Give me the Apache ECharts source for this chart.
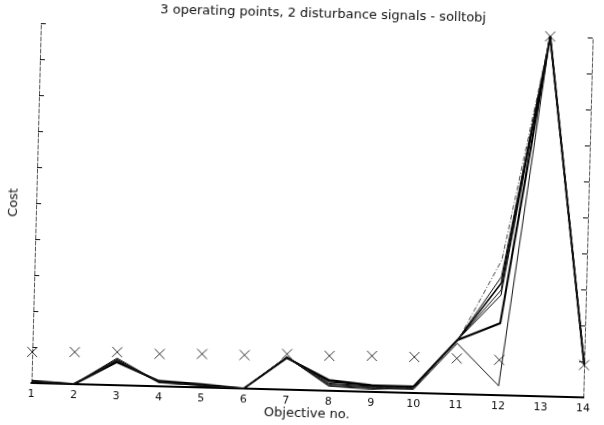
<!DOCTYPE html>
<html><head><meta charset="utf-8">
<script src="https://cdn.jsdelivr.net/npm/echarts@6/dist/echarts.min.js"></script>
<style>
html,body{margin:0;padding:0;background:#fff;width:604px;height:425px;overflow:hidden}
#c{width:604px;height:425px;background:#fff;transform:rotate(1.5deg);transform-origin:50% 50%}
</style></head><body><div id="c"></div>
<script>
// Objective numbers (x categories)
const objectives = [1,2,3,4,5,6,7,8,9,10,11,12,13,14];
// Goal values (x markers)
const goals = [0.86,0.89,0.92,0.90,0.93,0.93,0.99,0.97,1.00,1.00,0.99,0.98,10,0.90];
// Solution traces (cost per objective)
const solA = [0.06,0,0.64,0.15,0.09,0,0.88,0.30,0.19,0.18,1.50,2.00,10,0.92];
const solB = [0.05,0,0.75,0.12,0.06,0,0.92,0.21,0.14,0.15,1.50,2.78,10,0.92];
const solC = [0.05,0,0.70,0.10,0.05,0,0.90,0.13,0.07,0.13,1.50,2.92,10,0.94];
const solD = [0.04,0,0.66,0.13,0.07,0,0.89,0.26,0.17,0.17,1.50,3.11,10,0.94];
const solE = [0.04,0,0.68,0.12,0.06,0,0.90,0.18,0.12,0.14,1.50,3.29,10,0.92];
const solF = [0.05,0,0.70,0.12,0.06,0,0.90,0.20,0.12,0.14,1.46,3.76,10,0.92];
const solG = [0.05,0,0.72,0.11,0.05,0,0.90,0.15,0.10,0.10,1.41,0.26,10,0.92];

const pair = arr => objectives.map((o,i)=>[o,arr[i]]);
const font = 'DejaVu Sans, Verdana, sans-serif';

function lineSeries(arr, w, type, color){
  return {type:'line', data:pair(arr), symbol:'none', silent:true,
    lineStyle:{color:color, width:w, type:type}, z:3};
}

const chart = echarts.init(document.getElementById('c'), null, {renderer:'canvas'});
chart.setOption({
  animation:false,
  backgroundColor:'#fff',
  title:{text:'3 operating points, 2 disturbance signals - solltobj', left:313, top:2, textAlign:'center',
    textStyle:{fontFamily:font, fontSize:13, fontWeight:'normal', color:'#111'}},
  grid:{left:36, right:16, top:30, bottom:35, containLabel:false, outerBoundsMode:'none'},
  xAxis:[{type:'value', min:1, max:14, interval:1,
      axisLine:{lineStyle:{color:'#000', width:2}},
      axisTick:{show:false}, splitLine:{show:false},
      axisLabel:{color:'#111', fontFamily:font, fontSize:11, margin:6},
      name:'Objective no.', nameLocation:'middle', nameGap:17, nameMoveOverlap:false,
      nameTextStyle:{fontFamily:font, fontSize:13, color:'#111'}},
    {type:'value', position:'top', min:1, max:14, interval:1,
      axisLine:{show:true, lineStyle:{color:'#000', width:1.6}},
      axisTick:{show:false}, axisLabel:{show:false}, splitLine:{show:false}}],
  yAxis:[{type:'value', min:0, max:10, interval:1,
      axisLine:{show:true, lineStyle:{color:'#555', width:1, type:[4,2]}},
      axisTick:{show:true, inside:true, length:5, lineStyle:{color:'#111'}},
      axisLabel:{show:false}, splitLine:{show:false},
      name:'Cost', nameLocation:'middle', nameGap:16,
      nameTextStyle:{fontFamily:font, fontSize:13, color:'#111'}},
    {type:'value', position:'right', min:0, max:10, interval:1,
      axisLine:{show:true, lineStyle:{color:'#555', width:1, type:[4,2]}},
      axisTick:{show:true, inside:true, length:5, lineStyle:{color:'#111'}},
      axisLabel:{show:false}, splitLine:{show:false}}],
  series:[
    lineSeries(solA, 2, 'solid', '#000'),
    lineSeries(solB, 1, 'solid', '#000'),
    lineSeries(solC, 1, 'solid', '#111'),
    lineSeries(solD, 1.5, 'solid', '#000'),
    lineSeries(solE, 1, 'solid', '#111'),
    lineSeries(solF, 0.9, [5,2,1,2], '#333'),
    lineSeries(solG, 1, 'solid', '#111'),
    {type:'scatter', data:pair(goals), symbol:'path://M0,0L10,10M10,0L0,10', symbolSize:10,
      clip:false, silent:true, z:5,
      itemStyle:{color:'none', borderColor:'#000', borderWidth:1}}
  ]
});
</script></body></html>
